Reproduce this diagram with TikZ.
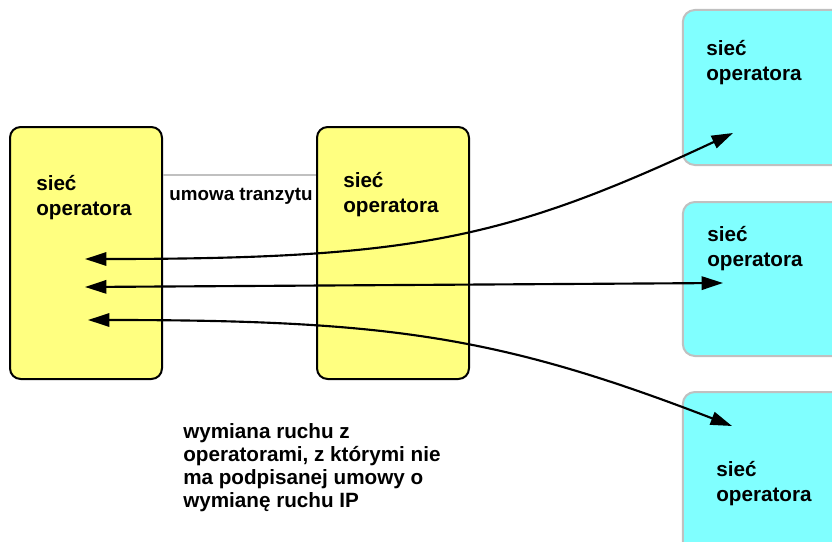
\documentclass[tikz,border=0pt]{standalone}
\usepackage{fontspec}
\setmainfont{Liberation Sans}
\usetikzlibrary{arrows.meta}
\definecolor{opyellow}{HTML}{FFFF80}
\definecolor{opcyan}{HTML}{80FFFF}
\definecolor{opgray}{HTML}{C0C0C0}
\begin{document}
\begin{tikzpicture}[x=0.75pt,y=-0.75pt,
	yellowbox/.style={draw, line width=1.5pt, fill=opyellow, rounded corners=8pt, minimum width=114pt, minimum height=189pt},
	cyanbox/.style={draw=opgray, line width=1.5pt, fill=opcyan, rounded corners=9pt, minimum width=133pt},
	boxtext/.style={anchor=base west, align=left, inner sep=0pt, font=\bfseries\fontsize{15.5}{18.75}\selectfont},
	link/.style={line width=1.6pt, {Triangle[length=16pt,width=10pt]}-{Triangle[length=16pt,width=10pt]}}]
				\clip (0,0) rectangle (832,542);
				\fill[white] (0,0) rectangle (832,542);
				\node[yellowbox] (L)at(86, 253) {};
				\node[yellowbox] (M)at(393, 253) {};
				\node[cyanbox, minimum height=116.25pt] (R1)at(771.5, 87.5) {};
				\node[cyanbox, minimum height=115.5pt] (R2)at(771.5, 279) {};
				\node[cyanbox, minimum height=126pt] (R3)at(771.5, 476) {};
				% base of a multi-line node = last line
				\node[boxtext] (tL)at(36, 215) {sieć\\operatora};
				\node[boxtext] (tM)at(343, 212) {sieć\\operatora};
				\node[boxtext] (tR1)at(706, 81) {sieć\\operatora};
				\node[boxtext] (tR2)at(707, 266) {sieć\\operatora};
				\node[boxtext] (tR3)at(716, 501) {sieć\\operatora};
				\draw[opgray, line width=1.5pt] ([yshift=58.5pt]L.east) -- ([yshift=58.5pt]M.west);
				\node[inner sep=0pt, font=\bfseries\fontsize{14.1}{17}\selectfont] (umowa)at(241, 196) {umowa tranzytu};
				\node[boxtext, font=\bfseries\fontsize{15.5}{17.25}\selectfont] (opis)at(183, 507) {wymiana ruchu z\\operatorami, z którymi nie\\ma podpisanej umowy o\\wymianę ruchu IP};
				\coordinate (a1) at (85, 259);
				\coordinate (a2) at (85, 287);
				\coordinate (a3) at (88, 320);
				\coordinate (b1) at (733, 133);
				\coordinate (b2) at (723, 283);
				\coordinate (b3) at (732, 426);
				\draw[link] (a1) .. controls (415, 259) and (506, 239) .. (b1);
				\draw[link] (a2) -- (b2);
				\draw[link] (a3) .. controls (388, 320) and (499, 336) .. (b3);
			\end{tikzpicture}
\end{document}
